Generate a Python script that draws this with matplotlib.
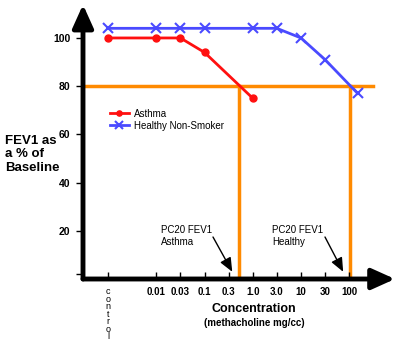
import matplotlib.pyplot as plt

plt.rcParams['font.family'] = ['Liberation Sans', 'DejaVu Sans']

# concentration steps (equally spaced categories, control sits two steps left)
tick_pos = [0, 2, 3, 4, 5, 6, 7, 8, 9, 10]
tick_labels = ['control', '0.01', '0.03', '0.1', '0.3', '1.0', '3.0', '10', '30', '100']

asthma_x = [0, 2, 3, 4, 6]
asthma_y = [100, 100, 100, 94, 75]

healthy_x = [0, 2, 3, 4, 6, 7, 8, 9, 10.35]
healthy_y = [104, 104, 104, 104, 104, 104, 100, 91, 77]

pc20_level = 80
pc20_asthma = 5.45
pc20_healthy = 10.05

y_ticks = [20, 40, 60, 80, 100]

W, H = 400, 340
fig = plt.figure(figsize=(4, 3.4), dpi=100)
ax = fig.add_axes([83 / W, 1 - 279 / H, (395 - 83) / W, (279 - 10) / H])
ax.set_xlim(-1.04, 11.9)
ax.set_ylim(0, 111.6)
for s in ax.spines.values():
    s.set_visible(False)

orange = '#ff8a00'
ax.axhline(pc20_level, xmin=0, xmax=(11.0 + 1.04) / 12.94, color=orange, lw=2.5, zorder=1)
ax.plot([pc20_asthma, pc20_asthma], [0, pc20_level], color=orange, lw=2.5, zorder=1)
ax.plot([pc20_healthy, pc20_healthy], [0, pc20_level], color=orange, lw=2.5, zorder=1)

ax.plot(asthma_x, asthma_y, color='#ff1010', lw=2, marker='o', ms=5, label='Asthma', zorder=3)
ax.plot(healthy_x, healthy_y, color='#4a4aff', lw=2, marker='x', ms=7, mew=1.5,
        label='Healthy Non-Smoker', zorder=3)

# thick axes with arrow heads
arrow = dict(arrowstyle='-|>,head_length=1.0,head_width=0.45', lw=3.5, color='black',
             mutation_scale=14, shrinkA=0, shrinkB=0)
ax.annotate('', xy=(0, 1.02), xytext=(0, 0), xycoords='axes fraction', arrowprops=arrow)
ax.annotate('', xy=(1, 0), xytext=(0, 0), xycoords='axes fraction', arrowprops=arrow)

ax.set_yticks([2] + y_ticks)
ax.set_yticklabels([''] + [str(v) for v in y_ticks], fontweight='bold', fontsize=7.5)
ax.tick_params(axis='y', direction='out', length=5, width=1, pad=4)

# control label is written as stacked letters
ax.set_xticks(tick_pos)
ax.set_xticklabels(['\n'.join(tick_labels[0])] + tick_labels[1:], fontweight='bold', fontsize=7)
ax.tick_params(axis='x', direction='in', length=5, width=1, pad=6)
ctrl = ax.get_xticklabels()[0]
ctrl.set_fontweight('normal')
ctrl.set_fontsize(6.5)
ctrl.set_linespacing(0.78)
ctrl.set_va('top')

leg = ax.legend(loc='upper left', bbox_to_anchor=(101 / W, 1 - 100 / H), bbox_transform=fig.transFigure,
                frameon=False, fontsize=7, handlelength=2.0, handletextpad=0.5, labelspacing=0.2,
                markerscale=0.75)

fig.text(5 / W, 1 - 135 / H, 'FEV1 as\na % of\nBaseline', fontweight='bold', fontsize=9.5,
         va='top', ha='left', linespacing=1.15)
fig.text(254 / W, 1 - 309 / H, 'Concentration', fontweight='bold', fontsize=9, ha='center', va='center')
fig.text(254 / W, 1 - 323 / H, '(methacholine mg/cc)', fontweight='bold', fontsize=7, ha='center', va='center')

note_arrow = dict(arrowstyle='-|>,head_length=0.7,head_width=0.3', lw=1, color='black',
                  mutation_scale=12, shrinkA=0, shrinkB=0)
fig.text(161 / W, 1 - 236 / H, 'PC20 FEV1\nAsthma', fontsize=7, va='center', ha='left')
fig.text(272 / W, 1 - 236 / H, 'PC20 FEV1\nHealthy', fontsize=7, va='center', ha='left')
ax.annotate('', xy=(5.15, 3), xytext=(213 / W, 1 - 237 / H), textcoords='figure fraction',
            arrowprops=note_arrow)
ax.annotate('', xy=(9.75, 3), xytext=(325 / W, 1 - 237 / H), textcoords='figure fraction',
            arrowprops=note_arrow)

fig.savefig('out.png', dpi=100)
